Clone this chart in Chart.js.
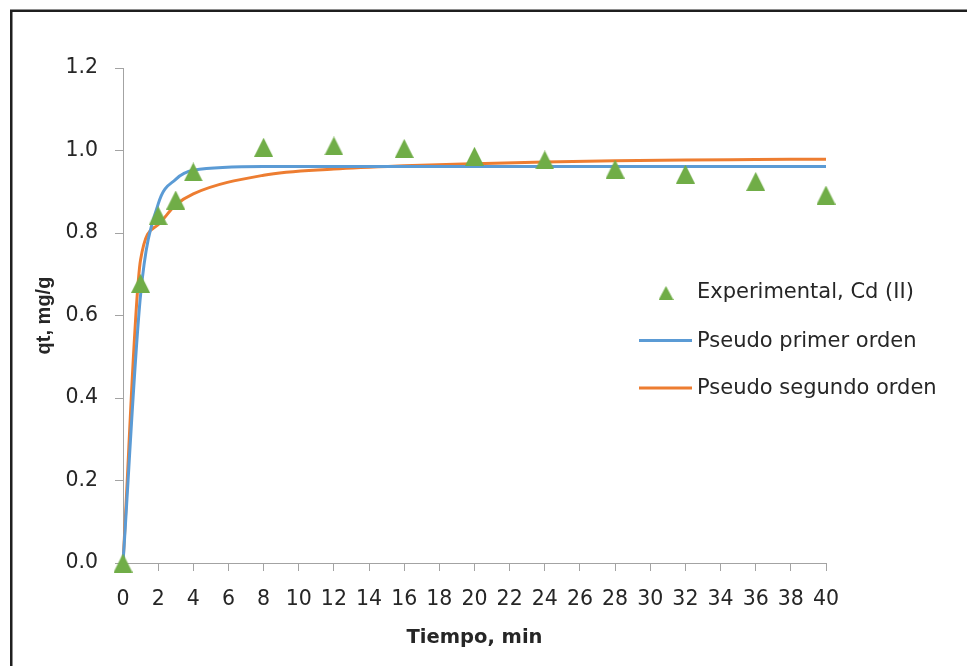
<!DOCTYPE html>
<html>
<head>
<meta charset="utf-8">
<script src="https://cdn.jsdelivr.net/npm/chart.js@4/dist/chart.umd.min.js"></script>
<style>
  html, body { margin: 0; padding: 0; background: #ffffff; }
  #chart { display: block; }
</style>
</head>
<body>
<canvas id="chart" width="967" height="666"></canvas>
<script>
// Cinética de adsorción de Cd (II): datos experimentales y modelos ajustados
const tiempos = [0, 1, 2, 3, 4, 8, 12, 16, 20, 24, 28, 32, 36, 40];
const qtExperimental = [0.000, 0.678, 0.842, 0.880, 0.948, 1.008, 1.011, 1.005, 0.986, 0.977, 0.955, 0.943, 0.925, 0.892];
const qtPrimerOrden = [0.000, 0.650, 0.870, 0.930, 0.952, 0.961, 0.961, 0.961, 0.961, 0.961, 0.961, 0.961, 0.961, 0.961];
const qtSegundoOrden = [0.000, 0.735, 0.820, 0.868, 0.895, 0.940, 0.955, 0.963, 0.968, 0.972, 0.975, 0.977, 0.978, 0.979];
const etiquetasSeries = ['Experimental, Cd (II)', 'Pseudo primer orden', 'Pseudo segundo orden'];
const tituloX = 'Tiempo, min';
const tituloY = 'qt, mg/g';

const VERDE = '#70AD47', AZUL = '#5B9BD5', NARANJA = '#ED7D31';
const TEXTO = '#262626', EJE = '#a3a3a3';

function puntos(xs, ys) { return xs.map((x, i) => ({ x: x, y: ys[i] })); }

// Triangle marker drawn on its own small canvas so it sits centred on each point
function triangulo(w, h) {
  const c = document.createElement('canvas');
  c.width = w; c.height = h;
  const g = c.getContext('2d');
  g.fillStyle = VERDE;
  g.beginPath();
  g.moveTo(w / 2, 0);
  g.lineTo(w, h);
  g.lineTo(0, h);
  g.closePath();
  g.fill();
  return c;
}
const marcador = triangulo(19, 19);
const marcadorLeyenda = triangulo(15, 14);

Chart.defaults.font.family = "'DejaVu Sans', sans-serif";
Chart.defaults.color = TEXTO;

// Outer frame and white background
const marco = {
  id: 'marco',
  beforeDraw(chart) {
    const ctx = chart.ctx;
    ctx.save();
    ctx.fillStyle = '#ffffff';
    ctx.fillRect(0, 0, chart.width, chart.height);
    ctx.strokeStyle = '#1f1f1f';
    ctx.lineWidth = 2.5;
    ctx.strokeRect(11.25, 10.75, 2000, 2000);
    ctx.restore();
  }
};

// Legend placed inside the plot, to the right
const leyenda = {
  id: 'leyenda',
  afterDraw(chart) {
    const ctx = chart.ctx;
    const ds = chart.data.datasets;
    ctx.save();
    ctx.font = "21px 'DejaVu Sans', sans-serif";
    ctx.fillStyle = TEXTO;
    ctx.textAlign = 'left';
    ctx.textBaseline = 'middle';
    const xTexto = 697;
    ctx.drawImage(marcadorLeyenda, 666 - 7.5, 293 - 7);
    ctx.fillText(ds[0].label, xTexto, 293);
    const filas = [[ds[1], 340.5], [ds[2], 388]];
    filas.forEach(([d, y]) => {
      ctx.strokeStyle = d.borderColor;
      ctx.lineWidth = 3;
      ctx.beginPath();
      ctx.moveTo(639, y);
      ctx.lineTo(692, y);
      ctx.stroke();
      ctx.fillStyle = TEXTO;
      ctx.fillText(d.label, xTexto, y + 1);
    });
    ctx.restore();
  }
};

new Chart(document.getElementById('chart'), {
  type: 'scatter',
  data: {
    datasets: [
      {
        label: etiquetasSeries[0],
        data: puntos(tiempos, qtExperimental),
        showLine: false,
        pointStyle: marcador,
        pointRadius: 10,
        backgroundColor: VERDE,
        borderColor: VERDE,
        clip: false
      },
      {
        label: etiquetasSeries[1],
        data: puntos(tiempos, qtPrimerOrden),
        showLine: true,
        borderColor: AZUL,
        borderWidth: 3,
        pointRadius: 0,
        cubicInterpolationMode: 'monotone',
        clip: false
      },
      {
        label: etiquetasSeries[2],
        data: puntos(tiempos, qtSegundoOrden),
        showLine: true,
        borderColor: NARANJA,
        borderWidth: 3,
        pointRadius: 0,
        cubicInterpolationMode: 'monotone',
        clip: false
      }
    ]
  },
  options: {
    responsive: false,
    animation: false,
    events: [],
    layout: { padding: { left: 0, right: 141, top: 68, bottom: 0 } },
    plugins: {
      legend: { display: false },
      tooltip: { enabled: false }
    },
    scales: {
      x: {
        type: 'linear',
        min: 0,
        max: 40,
        afterFit(scale) { scale.height = 103; },
        border: { color: EJE, width: 1 },
        grid: { drawOnChartArea: false, drawTicks: true, tickLength: 8, color: EJE },
        ticks: {
          stepSize: 2,
          autoSkip: false,
          maxRotation: 0,
          padding: 16,
          color: TEXTO,
          font: { size: 20.5 }
        },
        title: {
          display: true,
          text: tituloX,
          color: TEXTO,
          font: { size: 19.5, weight: 'bold' },
          padding: { top: 0, bottom: 16 }
        }
      },
      y: {
        type: 'linear',
        min: 0,
        max: 1.2,
        afterFit(scale) { scale.width = 123; },
        border: { color: EJE, width: 1 },
        grid: { drawOnChartArea: false, drawTicks: true, tickLength: 8, color: EJE },
        ticks: {
          stepSize: 0.2,
          padding: 17,
          color: TEXTO,
          font: { size: 20.5 },
          callback: (v) => Number(v).toFixed(1)
        },
        title: {
          display: true,
          text: tituloY,
          color: TEXTO,
          font: { family: "'Liberation Sans', sans-serif", size: 20, weight: 'bold' },
          padding: { top: 32, bottom: 0 }
        }
      }
    }
  },
  plugins: [marco, leyenda]
});
</script>
</body>
</html>
